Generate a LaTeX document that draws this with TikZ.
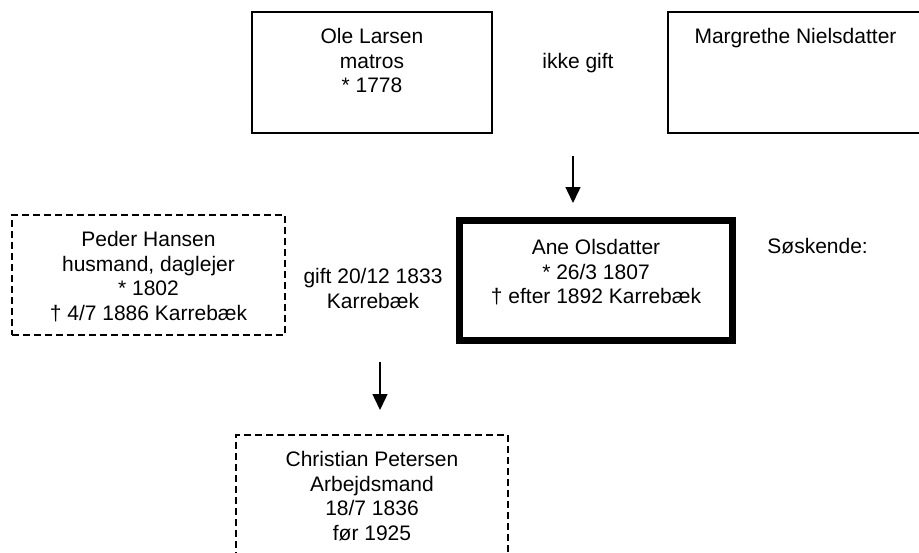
\documentclass[tikz,border=0pt]{standalone}
\usepackage{fontspec}
\setmainfont{Liberation Sans}
\usetikzlibrary{arrows.meta}

\tikzset{
	person/.style={draw, line width=0.7pt, inner sep=0pt},
	unsure/.style={person, dash pattern=on 3.5pt off 2pt},
	main/.style={draw, line width=3.5pt, inner sep=0pt},
	txt/.style={inner sep=0pt, align=center, font=\fontsize{10.5}{12.25}\selectfont},
	descent/.style={line width=0.7pt, -{Triangle[width=7.5pt,length=8pt]}}
}

\begin{document}
\begin{tikzpicture}[x=0.5pt,y=-0.5pt]
		\useasboundingbox (0,0) rectangle (919,552);
		% parents
		\node[person, minimum width=120pt, minimum height=60.5pt] (ole) at (372,72.5) {};
		\node[person, minimum width=127.5pt, minimum height=60.5pt] (margrethe) at (795.5,72.5) {};
		\node[txt, anchor=north] (oletxt) at (372,28) {Ole Larsen\\matros\\* 1778};
		\node[txt, anchor=north] (margrethetxt) at (795.5,28) {Margrethe Nielsdatter};
		\node[txt, anchor=north] (ikkegift) at (578,53) {ikke gift};
		% main person and spouse
		\node[main, minimum width=136.5pt, minimum height=60pt] (ane) at (596,280.5) {};
		\node[unsure, minimum width=136.5pt, minimum height=60pt] (peder) at (148.5,275) {};
		\node[txt, anchor=north] (anetxt) at (596,239) {Ane Olsdatter\\* 26/3 1807\\† efter 1892 Karrebæk};
		\node[txt, anchor=north] (pedertxt) at (148.5,231) {Peder Hansen\\husmand, daglejer\\* 1802\\† 4/7 1886 Karrebæk};
		\node[txt, anchor=north] (gift) at (373,268) {gift 20/12 1833\\Karrebæk};
		\node[txt, anchor=north west] (soskende) at (767,238) {Søskende:};
		% child
		\node[unsure, minimum width=136pt, minimum height=60pt] (christian) at (372,495) {};
		\node[txt, anchor=north] (christiantxt) at (372,451) {Christian Petersen\\Arbejdsmand\\18/7 1836\\før 1925};
		% arrows
		\coordinate (up1) at (573,156);
		\coordinate (down1) at (573,203);
		\coordinate (up2) at (380,362);
		\coordinate (down2) at (380,410);
		\draw[descent] (up1) -- (down1);
		\draw[descent] (up2) -- (down2);
	\end{tikzpicture}
\end{document}
